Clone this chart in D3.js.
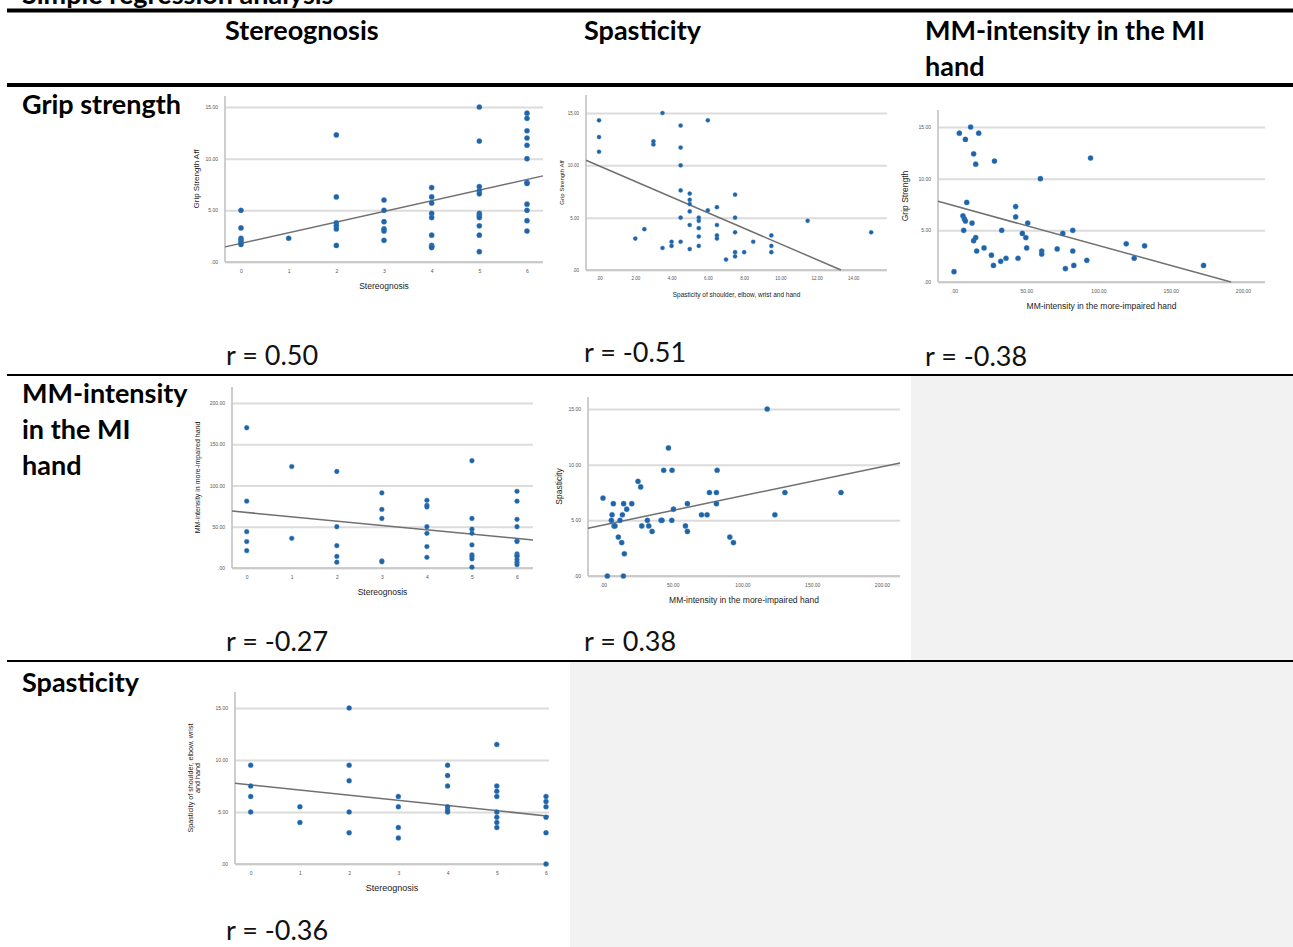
<!DOCTYPE html>
<html><head><meta charset="utf-8">
<script src="https://cdn.jsdelivr.net/npm/d3@7"></script>
<style>body{margin:0;background:#fff;} svg{display:block;}</style>
</head><body>
<svg id="c" width="1293" height="947"></svg>
<script>
// ---------------- data ----------------
const pageTitle = "Simple regression analysis";
const columnHeaders = [["Stereognosis"], ["Spasticity"], ["MM-intensity in the MI", "hand"]];
const rowHeaders = [["Grip strength"], ["MM-intensity", "in the MI", "hand"], ["Spasticity"]];
const rLabels = ["r = 0.50", "r = -0.51", "r = -0.38", "r = -0.27", "r = 0.38", "r = -0.36"];

const stereoTicks = [0, 1, 2, 3, 4, 5, 6];
const spastTicks = [0, 2, 4, 6, 8, 10, 12, 14];
const mmTicks = [0, 50, 100, 150, 200];
const gripYTicks = [0, 5, 10, 15];
const mmYTicks = [0, 50, 100, 150, 200];
const spastYTicks = [0, 5, 10, 15];

// 1) Grip strength vs Stereognosis
const gripStereo_x = [0,0,0,0,0,0, 1, 2,2,2,2,2,2, 3,3,3,3,3,3, 4,4,4,4,4,4,4,4,4, 5,5,5,5,5,5,5,5,5,5,5, 6,6,6,6,6,6,6,6,6,6,6,6];
const gripStereo_y = [5.0,3.3,2.3,2.1,1.9,1.7, 2.3, 12.3,6.3,3.8,3.5,3.2,1.6, 6.0,5.0,3.9,3.2,3.0,2.1, 7.2,6.3,5.7,4.7,4.3,2.6,1.6,1.5,1.4, 15.0,11.7,7.3,6.9,6.6,4.7,4.5,4.3,3.5,2.6,1.0, 14.4,13.9,12.7,12.0,11.3,10.0,7.7,7.6,5.6,5.0,4.0,3.0];
const gripStereo_fit = [1.81, 1.03];   // intercept, slope

// 2) Grip strength vs Spasticity
const gripSpast_x = [0,0,0, 3.5, 3,3, 6, 4.5,4.5,4.5,4.5,4.5,4.5, 2, 2.5, 3.5, 4,4, 5,5,5,5,5,5, 5.5,5.5,5.5,5.5,5.5, 6, 6.5,6.5,6.5,6.5, 7, 7.5,7.5,7.5,7.5,7.5, 8, 8.5, 9.5,9.5,9.5, 11.5, 15];
const gripSpast_y = [14.3,12.7,11.3, 15.0, 12.3,12.0, 14.3, 13.8,11.7,10.0,7.6,5.0,2.7, 3.0, 3.9, 2.1, 2.7,2.3, 7.3,6.7,6.3,5.6,4.3,2.0, 5.0,4.7,4.0,3.2,2.3, 5.7, 6.0,4.3,3.3,3.0, 1.0, 7.2,5.0,3.6,1.7,1.3, 1.7, 2.7, 3.3,2.3,1.7, 4.7, 3.6];
const gripSpast_fit = [9.95, -0.746];

// 3) Grip strength vs MM-intensity
const gripMM_x = [0,3.7,7.9,11.5,17.1, 13.6,15.0,28,8.8,6.2, 7.2,7.9,6.7,12.5,13.6, 15.0,15.7,20.8,25.9,27.3, 32.3,33.0,36.0,42.7,42.7, 44.3,47.3,49.7,50.3,51.0, 59.8,60.7,60.7,71.4,75.3, 77.1,82.2,82.2,82.9,91.9, 94.5,119.2,124.7,131.9,172.7];
const gripMM_y = [1.0,14.4,13.8,15.0,14.4, 12.4,11.4,11.7,7.7,6.4, 6.1,5.9,5.0,5.7,4.0, 4.3,3.0,3.3,2.6,1.6, 2.0,5.0,2.3,7.3,6.3, 2.3,4.7,4.3,3.3,5.7, 10.0,3.0,2.7,3.2,4.7, 1.3,5.0,3.0,1.6,2.1, 12.0,3.7,2.3,3.5,1.6];
const gripMM_fit = [7.38, -0.0385];

// 4) MM-intensity vs Stereognosis
const mmStereo_x = [0,0,0,0,0, 1,1, 2,2,2,2,2, 3,3,3,3,3, 4,4,4,4,4,4,4, 5,5,5,5,5,5,5,5,5, 6,6,6,6,6,6,6,6,6,6,6,6];
const mmStereo_y = [170,81,44,32,21, 123,36, 117,50,27,14,7, 91,71,60,8.5,7.5, 82,76,74,50,42,26,13, 130,60,47,42,28,16,14,11,1, 93,81,59,50,33,32,17,15,14,10,7,4];
const mmStereo_fit = [67.3, -5.25];

// 5) Spasticity vs MM-intensity
const spastMM_x = [0,3.1,6.5,6.0,7.4, 7.9,8.6,11.0,12.2,13.4, 13.9,14.8,14.6,15.3,17.0, 20.6,25.1,27.0,27.8,31.8, 32.8,35.2,41.6,42.3,43.5, 46.9,49.3,49.5,50.5,59.1, 60.5,60.5,70.6,74.6,76.3, 81.3,81.3,81.8,90.9,93.5, 117.7,123.2,130.4,170.6];
const spastMM_y = [7.0,0,5.5,5.0,6.5, 4.5,4.5,3.5,5.0,3.0, 5.5,6.5,0,2.0,6.0, 6.5,8.5,8.0,4.5,5.0, 4.5,4.0,5.0,5.0,9.5, 11.5,5.0,9.5,6.0,4.5, 4.0,6.5,5.5,5.5,7.5, 7.5,6.5,9.5,3.5,3.0, 15.0,5.5,7.5,7.5];
const spastMM_fit = [4.58, 0.0262];

// 6) Spasticity vs Stereognosis
const spastStereo_x = [0,0,0,0, 1,1, 2,2,2,2,2, 3,3,3,3, 4,4,4,4,4,4, 5,5,5,5,5,5,5,5, 6,6,6,6,6,6];
const spastStereo_y = [9.5,7.5,6.5,5.0, 5.5,4.0, 15.0,9.5,8.0,5.0,3.0, 6.5,5.5,3.5,2.5, 9.5,8.5,7.5,5.5,5.2,5.0, 11.5,7.5,7.0,6.5,5.0,4.5,4.0,3.5, 6.5,6.0,5.5,4.5,3.0,0];
const spastStereo_fit = [7.6, -0.495];

// ---------------- drawing ----------------
const svg = d3.select("#c");
const TABLE_FONT = "Lato, 'Open Sans', sans-serif";
const SMALL_FONT = "'Liberation Sans', Arial, sans-serif";
const spssFmt = d => d === 0 ? ".00" : d3.format(".2f")(d);

// grey empty cells
svg.append("rect").attr("x", 911).attr("y", 376).attr("width", 382).attr("height", 285).attr("fill", "#f2f2f2");
svg.append("rect").attr("x", 570).attr("y", 662).attr("width", 723).attr("height", 285).attr("fill", "#f2f2f2");

// horizontal rules
[[8.5, 4], [83, 4], [374, 2], [660, 2]].forEach(([y, h]) =>
  svg.append("rect").attr("x", 7).attr("y", y).attr("width", 1286).attr("height", h).attr("fill", "#000"));

// cut-off title
svg.append("text").attr("x", 22).attr("y", 4).attr("font-family", TABLE_FONT)
  .attr("font-weight", 700).attr("font-size", 27).text(pageTitle);

// column headers
const colX = [225, 584, 925];
columnHeaders.forEach((lines, i) => {
  lines.forEach((t, j) => svg.append("text").attr("x", colX[i]).attr("y", 40 + j * 36)
    .attr("font-family", TABLE_FONT).attr("font-weight", 700).attr("font-size", 27).text(t));
});
// row headers
const rowY = [114, 403, 692];
rowHeaders.forEach((lines, i) => {
  lines.forEach((t, j) => svg.append("text").attr("x", 22).attr("y", rowY[i] + j * 36)
    .attr("font-family", TABLE_FONT).attr("font-weight", 700).attr("font-size", 27).text(t));
});
// r labels
const rPos = [[226, 365], [584, 362], [925, 366], [226, 651], [584, 651], [226, 940]];
rLabels.forEach((t, i) => svg.append("text").attr("x", rPos[i][0]).attr("y", rPos[i][1])
  .attr("font-family", TABLE_FONT).attr("font-size", 27).attr("fill", "#111").text(t));

const plots = [
  { xs: gripStereo_x, ys: gripStereo_y, fit: gripStereo_fit, xTicks: stereoTicks, yTicks: gripYTicks,
    xFmt: d3.format("d"), xTitle: "Stereognosis", yTitle: ["Grip Strength Aff"],
    frame: { left: 225, right: 543, top: 96 }, xPx: [241, 527], yPx: [262, 107],
    tickFs: 5, xTitleFs: 8.5, yTitleFs: 8, yTitleOff: 29, r: 2.6 },
  { xs: gripSpast_x, ys: gripSpast_y, fit: gripSpast_fit, xTicks: spastTicks, yTicks: gripYTicks,
    xFmt: spssFmt, xTitle: "Spasticity of shoulder, elbow, wrist and hand", yTitle: ["Grip Strength Aff"],
    frame: { left: 586, right: 887, top: 95 }, xPx: [599, 853], yPx: [270, 113],
    tickFs: 4.5, xTitleFs: 6.5, yTitleFs: 6, yTitleOff: 24, r: 2.1 },
  { xs: gripMM_x, ys: gripMM_y, fit: gripMM_fit, xTicks: mmTicks, yTicks: gripYTicks,
    xFmt: spssFmt, xTitle: "MM-intensity in the more-impaired hand", yTitle: ["Grip Strength"],
    frame: { left: 938, right: 1265, top: 110 }, xPx: [954, 1243], yPx: [282, 127],
    tickFs: 5, xTitleFs: 8.5, yTitleFs: 8.5, yTitleOff: 33, r: 2.6 },
  { xs: mmStereo_x, ys: mmStereo_y, fit: mmStereo_fit, xTicks: stereoTicks, yTicks: mmYTicks,
    xFmt: d3.format("d"), xTitle: "Stereognosis", yTitle: ["MM-intensity in more-impaired hand"],
    frame: { left: 232, right: 533, top: 387 }, xPx: [246.7, 517], yPx: [568, 403],
    tickFs: 5, xTitleFs: 8.5, yTitleFs: 7, yTitleOff: 34, r: 2.4 },
  { xs: spastMM_x, ys: spastMM_y, fit: spastMM_fit, xTicks: mmTicks, yTicks: spastYTicks,
    xFmt: spssFmt, xTitle: "MM-intensity in the more-impaired hand", yTitle: ["Spasticity"],
    frame: { left: 588, right: 900, top: 397 }, xPx: [603, 882], yPx: [576, 409],
    tickFs: 5, xTitleFs: 8.5, yTitleFs: 8.5, yTitleOff: 29, r: 2.6 },
  { xs: spastStereo_x, ys: spastStereo_y, fit: spastStereo_fit, xTicks: stereoTicks, yTicks: spastYTicks,
    xFmt: d3.format("d"), xTitle: "Stereognosis", yTitle: ["Spasticity of shoulder, elbow, wrist", "and hand"],
    frame: { left: 235, right: 549, top: 692 }, xPx: [250.7, 546], yPx: [864, 708],
    tickFs: 5, xTitleFs: 9, yTitleFs: 7.2, yTitleOff: 41, r: 2.5 }
];

function drawPlot(cfg) {
  const g = svg.append("g");
  const x = d3.scaleLinear().domain([cfg.xTicks[0], cfg.xTicks[cfg.xTicks.length - 1]]).range(cfg.xPx);
  const y = d3.scaleLinear().domain([cfg.yTicks[0], cfg.yTicks[cfg.yTicks.length - 1]]).range(cfg.yPx);
  const L = cfg.frame.left, R = cfg.frame.right, T = cfg.frame.top, B = cfg.yPx[0];

  // horizontal gridlines + y tick labels
  const yg = g.append("g").attr("transform", `translate(${L},0)`)
    .call(d3.axisLeft(y).tickValues(cfg.yTicks).tickFormat(spssFmt).tickSize(-(R - L)).tickPadding(7));
  yg.select(".domain").remove();
  yg.selectAll(".tick line").attr("stroke", "#dcdcdc").attr("stroke-width", 2);
  yg.selectAll(".tick text").attr("font-size", cfg.tickFs).attr("fill", "#555").attr("font-family", SMALL_FONT);

  // axis lines
  g.append("line").attr("x1", L).attr("x2", L).attr("y1", T).attr("y2", B)
    .attr("stroke", "#c2c2c2").attr("stroke-width", 1.6);
  g.append("line").attr("x1", L).attr("x2", R).attr("y1", B).attr("y2", B)
    .attr("stroke", "#c2c2c2").attr("stroke-width", 1.6);

  // x tick labels
  const xg = g.append("g").attr("transform", `translate(0,${B})`)
    .call(d3.axisBottom(x).tickValues(cfg.xTicks).tickFormat(cfg.xFmt).tickSize(0).tickPadding(7));
  xg.select(".domain").remove();
  xg.selectAll(".tick text").attr("font-size", cfg.tickFs).attr("fill", "#555").attr("font-family", SMALL_FONT);

  // fit line, clipped at y = 0
  const [a, b] = cfg.fit;
  let xa = x.invert(L), xb = x.invert(R);
  const f = v => a + b * v;
  if (f(xb) < 0) xb = -a / b;
  if (f(xa) < 0) xa = -a / b;
  g.append("line").attr("x1", x(xa)).attr("y1", y(f(xa))).attr("x2", x(xb)).attr("y2", y(f(xb)))
    .attr("stroke", "#707070").attr("stroke-width", 1.5);

  // points
  g.append("g").selectAll("circle").data(d3.zip(cfg.xs, cfg.ys)).join("circle")
    .attr("cx", d => x(d[0])).attr("cy", d => y(d[1])).attr("r", cfg.r)
    .attr("fill", "#1f64a8").attr("stroke", "#4a86c0").attr("stroke-width", 0.4);

  // axis titles
  g.append("text").attr("x", (L + R) / 2).attr("y", B + 27).attr("text-anchor", "middle")
    .attr("font-family", SMALL_FONT).attr("font-size", cfg.xTitleFs).attr("fill", "#222").text(cfg.xTitle);
  const n = cfg.yTitle.length;
  const yt = g.append("text")
    .attr("transform", `translate(${L - cfg.yTitleOff},${(T + B) / 2}) rotate(-90)`)
    .attr("text-anchor", "middle").attr("font-family", SMALL_FONT)
    .attr("font-size", cfg.yTitleFs).attr("fill", "#222");
  cfg.yTitle.forEach((t, i) => yt.append("tspan").attr("x", 0)
    .attr("dy", i === 0 ? `${0.35 - (n - 1) * 0.55}em` : "1.1em").text(t));
}
plots.forEach(drawPlot);
</script>
</body></html>
